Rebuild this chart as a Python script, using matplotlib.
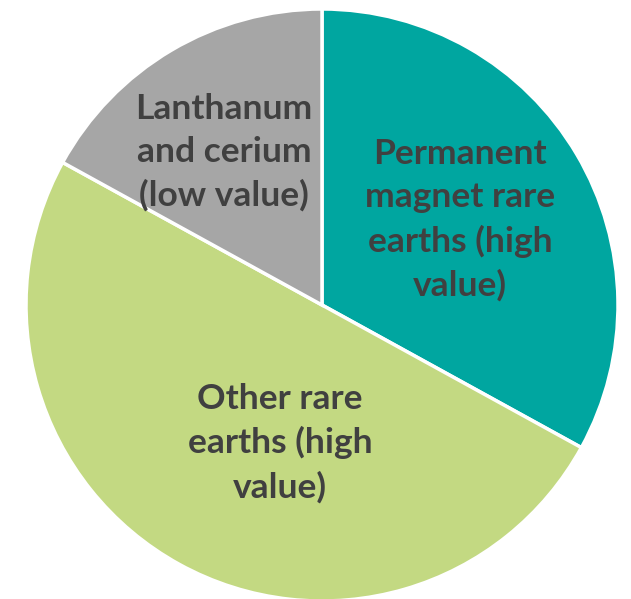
import matplotlib.pyplot as plt

labels = ['Permanent\nmagnet rare\nearths (high\nvalue)',
          'Other rare\nearths (high\nvalue)',
          'Lanthanum\nand cerium\n(low value)']
shares = [33, 50, 17]
colors = ['#00A6A0', '#C3D982', '#A6A6A6']
label_pos = [(0.466, 0.287), (-0.142, -0.466), (-0.331, 0.517)]

fig = plt.figure(figsize=(6.31, 5.99), dpi=100)
ax = fig.add_axes([0, 0, 1, 1])

r = 296
ax.pie(shares, colors=colors, startangle=90, counterclock=False,
       radius=1, wedgeprops=dict(edgecolor='white', linewidth=2.5))

for lab, (x, y) in zip(labels, label_pos):
    ax.text(x, y, lab, ha='center', va='center', fontsize=25.5,
            fontweight='bold', color='#404040', family='Lato',
            linespacing=1.42)

ax.set_aspect('auto')
ax.set_xlim(-322 / r, 309 / r)
ax.set_ylim(-294 / r, 305 / r)
ax.axis('off')

fig.savefig('out.png', dpi=100)
